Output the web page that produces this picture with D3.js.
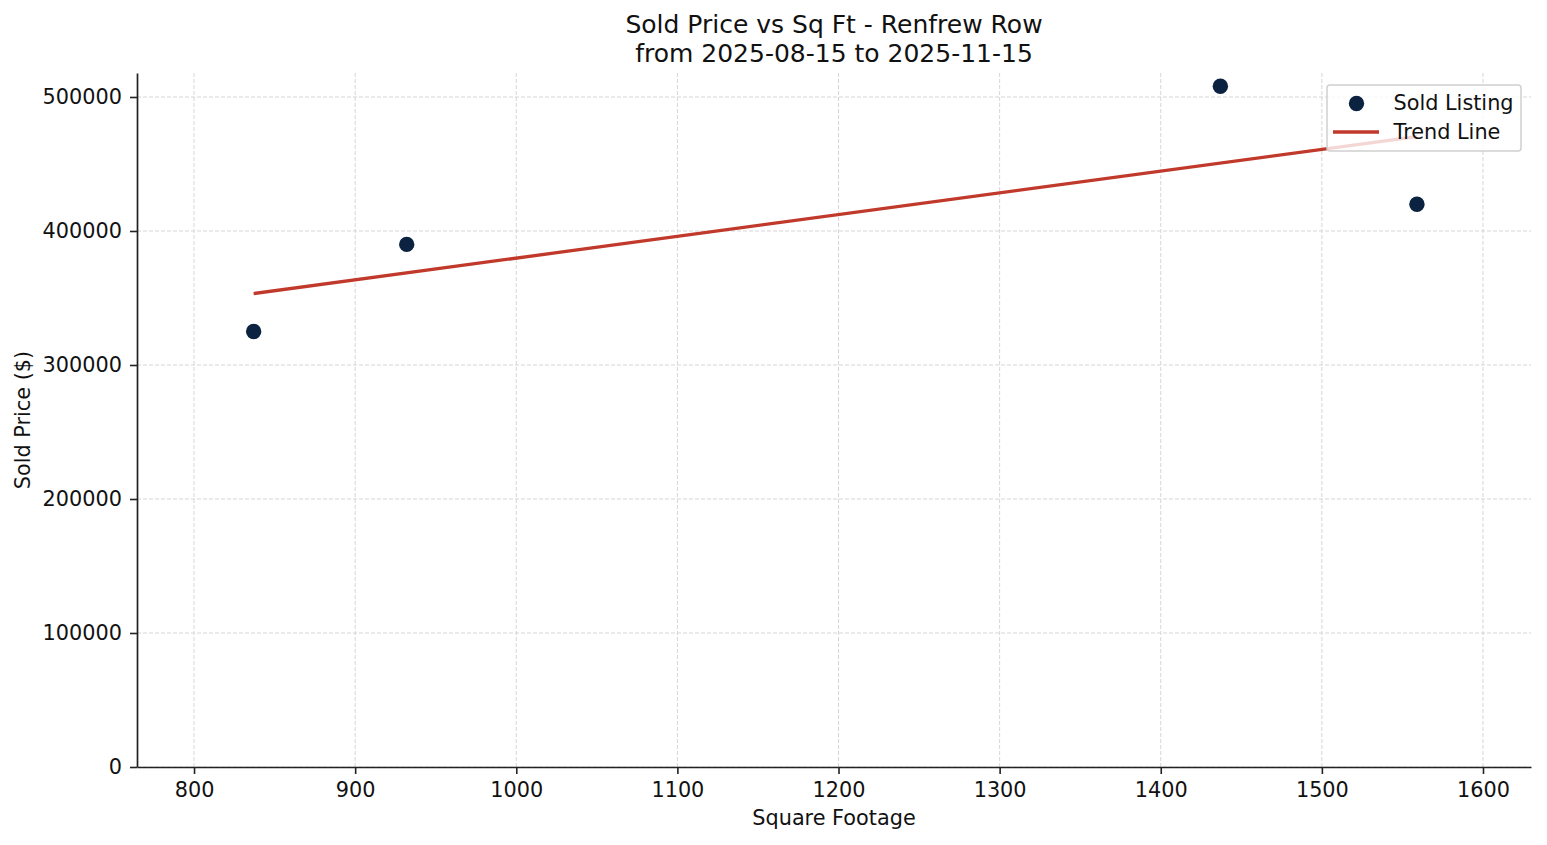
<!DOCTYPE html>
<html>
<head>
<meta charset="utf-8">
<script src="https://cdn.jsdelivr.net/npm/d3@7"></script>
<style>
  body { margin: 0; background: #fff; }
  svg text { font-family: "DejaVu Sans", sans-serif; fill: #111; }
</style>
</head>
<body>
<div id="chart"></div>
<script>
// sold listings
var sqft = [837, 932, 1437, 1559];
var price = [325000, 390000, 508000, 420000];

// trend line end points (least squares fit as drawn)
var trendSqft = [837, 1559];
var trendPrice = [353300, 470500];

var xTicks = [800, 900, 1000, 1100, 1200, 1300, 1400, 1500, 1600];
var yTicks = [0, 100000, 200000, 300000, 400000, 500000];

var width = 1547, height = 845;
var margin = {top: 73, right: 16, bottom: 78, left: 137};
var fs = 20.8; // ~10pt at this dpi

var svg = d3.select("#chart").append("svg")
  .attr("width", width)
  .attr("height", height);

var x = d3.scaleLinear()
  .domain([764.6, 1629.8])
  .range([margin.left, width - margin.right]);

var y = d3.scaleLinear()
  .domain([0, 517900])
  .range([height - margin.bottom, margin.top]);

// grid
svg.append("g").selectAll("line.gx")
  .data(xTicks).enter().append("line")
  .attr("x1", function(d){ return x(d); })
  .attr("x2", function(d){ return x(d); })
  .attr("y1", y.range()[0])
  .attr("y2", y.range()[1])
  .attr("stroke", "#d6d6d6")
  .attr("stroke-width", 1)
  .attr("stroke-dasharray", "4,2");

svg.append("g").selectAll("line.gy")
  .data(yTicks).enter().append("line")
  .attr("x1", x.range()[0])
  .attr("x2", x.range()[1])
  .attr("y1", function(d){ return y(d); })
  .attr("y2", function(d){ return y(d); })
  .attr("stroke", "#d6d6d6")
  .attr("stroke-width", 1)
  .attr("stroke-dasharray", "4,2");

// axes
var xAxis = svg.append("g")
  .attr("transform", "translate(0," + (height - margin.bottom) + ")")
  .call(d3.axisBottom(x).tickValues(xTicks).tickSize(7).tickSizeOuter(0).tickPadding(8).tickFormat(d3.format("d")));

var yAxis = svg.append("g")
  .attr("transform", "translate(" + margin.left + ",0)")
  .call(d3.axisLeft(y).tickValues(yTicks).tickSize(7).tickSizeOuter(0).tickPadding(8).tickFormat(d3.format("d")));

[xAxis, yAxis].forEach(function(a){
  a.select(".domain").attr("stroke", "#222").attr("stroke-width", 1.7);
  a.selectAll(".tick line").attr("stroke", "#222").attr("stroke-width", 1.6);
  a.selectAll(".tick text").style("font-size", fs + "px").style("font-family", "DejaVu Sans, sans-serif").attr("fill", "#111");
});

// trend line
var line = d3.line()
  .x(function(d){ return x(d[0]); })
  .y(function(d){ return y(d[1]); });

svg.append("path")
  .datum(d3.zip(trendSqft, trendPrice))
  .attr("d", line)
  .attr("fill", "none")
  .attr("stroke", "#c0392b")
  .attr("stroke-width", 3.3);

// points
svg.append("g").selectAll("circle")
  .data(d3.zip(sqft, price)).enter().append("circle")
  .attr("cx", function(d){ return x(d[0]); })
  .attr("cy", function(d){ return y(d[1]); })
  .attr("r", 7.7)
  .attr("fill", "#0b2240");

// titles
var cx = (margin.left + width - margin.right) / 2;
svg.append("text")
  .attr("x", cx)
  .attr("y", 33)
  .attr("text-anchor", "middle")
  .style("font-size", "25px")
  .text("Sold Price vs Sq Ft - Renfrew Row");
svg.append("text")
  .attr("x", cx)
  .attr("y", 61.5)
  .attr("text-anchor", "middle")
  .style("font-size", "25px")
  .text("from 2025-08-15 to 2025-11-15");

svg.append("text")
  .attr("x", cx)
  .attr("y", 825)
  .attr("text-anchor", "middle")
  .style("font-size", fs + "px")
  .text("Square Footage");

svg.append("text")
  .attr("transform", "translate(29.5," + ((margin.top + height - margin.bottom) / 2) + ") rotate(-90)")
  .attr("text-anchor", "middle")
  .style("font-size", fs + "px")
  .text("Sold Price ($)");

// legend
var lg = svg.append("g").attr("transform", "translate(1327,85)");
lg.append("rect")
  .attr("width", 194).attr("height", 66)
  .attr("rx", 3)
  .attr("fill", "#fff").attr("fill-opacity", 0.8)
  .attr("stroke", "#d0d0d0").attr("stroke-width", 1.5);
lg.append("circle").attr("cx", 29.5).attr("cy", 18.5).attr("r", 7.7).attr("fill", "#0b2240");
lg.append("line").attr("x1", 6).attr("x2", 52).attr("y1", 47).attr("y2", 47)
  .attr("stroke", "#c0392b").attr("stroke-width", 3.3);
lg.append("text").attr("x", 66.5).attr("y", 24.5).style("font-size", fs + "px").text("Sold Listing");
lg.append("text").attr("x", 66.5).attr("y", 53.5).style("font-size", fs + "px").text("Trend Line");
</script>
</body>
</html>
